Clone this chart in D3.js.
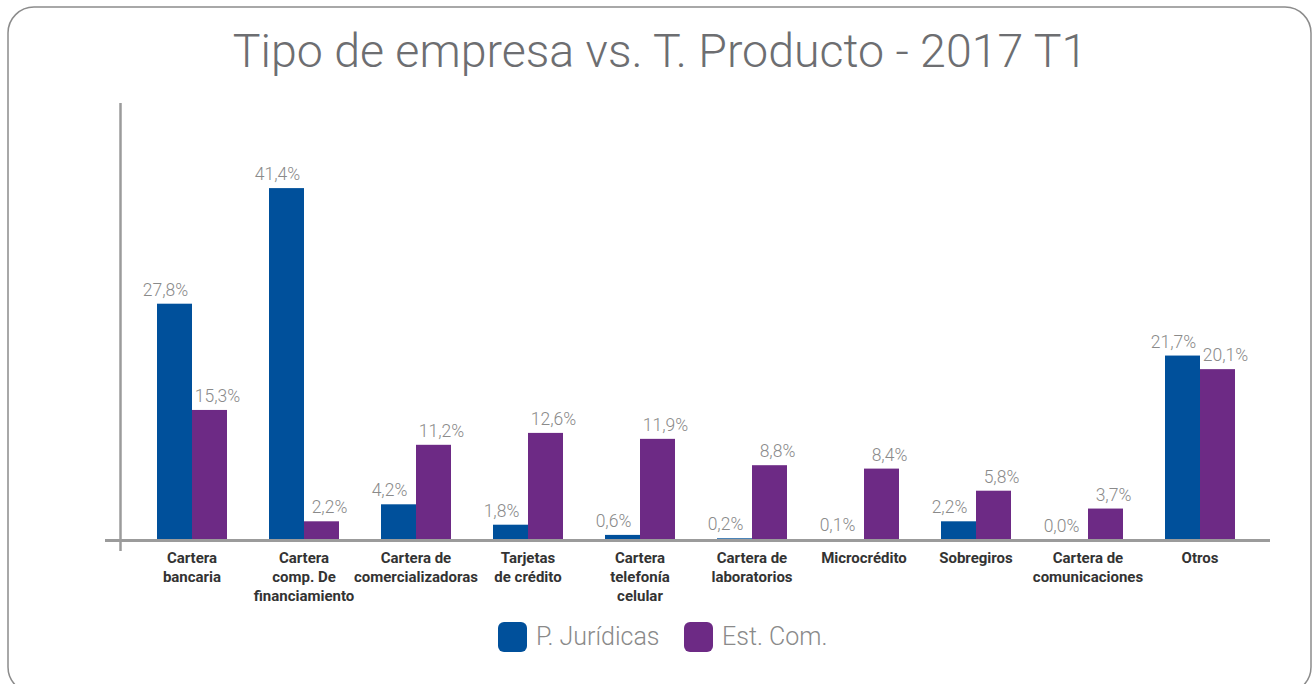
<!DOCTYPE html>
<html>
<head>
<meta charset="utf-8">
<script src="https://cdn.jsdelivr.net/npm/d3@7"></script>
<style>
  body { margin: 0; background: #fff; }
  svg { display: block; font-family: Roboto, "DejaVu Sans", sans-serif; }
</style>
</head>
<body>
<svg class="bar-chart"></svg>
<script>
var categories = [
  ["Cartera", "bancaria"],
  ["Cartera", "comp. De", "financiamiento"],
  ["Cartera de", "comercializadoras"],
  ["Tarjetas", "de crédito"],
  ["Cartera", "telefonía", "celular"],
  ["Cartera de", "laboratorios"],
  ["Microcrédito"],
  ["Sobregiros"],
  ["Cartera de", "comunicaciones"],
  ["Otros"]
]
var juridicas = [27.8, 41.4, 4.2, 1.8, 0.6, 0.2, 0.1, 2.2, 0.0, 21.7]
var estCom = [15.3, 2.2, 11.2, 12.6, 11.9, 8.8, 8.4, 5.8, 3.7, 20.1]
var seriesNames = ["P. Jurídicas", "Est. Com."]
var colors = ["#00509b", "#6d2a85"]

var width = 1312, height = 684
var svg = d3.select(".bar-chart").attr("width", width).attr("height", height)

// frame
svg.append("rect")
  .attr("x", 8).attr("y", 7)
  .attr("width", 1303).attr("height", 686)
  .attr("rx", 26)
  .attr("fill", "none")
  .attr("stroke", "#8c8c8c")
  .attr("stroke-width", 1.5)

svg.append("text")
  .attr("x", 660).attr("y", 67)
  .attr("text-anchor", "middle")
  .attr("fill", "#6d6e71")
  .attr("font-size", 46.5)
  .attr("font-weight", 300)
  .text("Tipo de empresa vs. T. Producto - 2017 T1")

var x = d3.scaleBand().domain(d3.range(categories.length)).range([136, 1256]).paddingInner(0).paddingOuter(0)
var x1 = d3.scaleBand().domain([0, 1]).range([21, 91])
var y = d3.scaleLinear().domain([0, 50]).range([540, 115])

var data = categories.map(function(c, i) {
  return {cat: c, vals: [juridicas[i], estCom[i]]}
})

var groups = svg.selectAll(".grp").data(data).enter().append("g")
  .attr("class", "grp")
  .attr("transform", function(d, i) { return "translate(" + x(i) + ",0)" })

groups.selectAll("rect").data(function(d) { return d.vals }).enter().append("rect")
  .attr("x", function(d, j) { return x1(j) })
  .attr("width", x1.bandwidth())
  .attr("y", function(d) { return y(d) })
  .attr("height", function(d) { return y(0) - y(d) })
  .attr("fill", function(d, j) { return colors[j] })

var labelShift = [-9, 8]
groups.selectAll(".val").data(function(d) { return d.vals }).enter().append("text")
  .attr("class", "val")
  .attr("x", function(d, j) { return x1(j) + x1.bandwidth() / 2 + labelShift[j] })
  .attr("y", function(d) { return y(d) - 8 })
  .attr("text-anchor", "middle")
  .attr("fill", "#8a8a8a")
  .attr("font-size", 17.5)
  .attr("font-weight", 300)
  .text(function(d) { return d.toFixed(1).replace(".", ",") + "%" })

// axes
svg.append("line")
  .attr("x1", 105).attr("x2", 1270).attr("y1", 540.5).attr("y2", 540.5)
  .attr("stroke", "#9b9b9b").attr("stroke-width", 3)
svg.append("line")
  .attr("x1", 120.5).attr("x2", 120.5).attr("y1", 103).attr("y2", 551)
  .attr("stroke", "#9b9b9b").attr("stroke-width", 2.5)

groups.append("text")
  .attr("text-anchor", "middle")
  .attr("fill", "#333")
  .attr("font-size", 15)
  .attr("font-weight", 700)
  .selectAll("tspan").data(function(d) { return d.cat }).enter().append("tspan")
    .attr("x", x.bandwidth() / 2)
    .attr("y", function(d, k) { return 563 + k * 19 })
    .text(function(d) { return d })

// legend
var legend = svg.append("g")
var legendX = [498, 684]
seriesNames.forEach(function(name, j) {
  var g = legend.append("g").attr("transform", "translate(" + legendX[j] + ",622)")
  g.append("rect").attr("width", 29).attr("height", 30).attr("rx", 6).attr("fill", colors[j])
  g.append("text").attr("x", 38).attr("y", 23)
    .attr("fill", "#8a8a8a").attr("font-size", 25).attr("font-weight", 300)
    .text(name)
})
</script>
</body>
</html>
